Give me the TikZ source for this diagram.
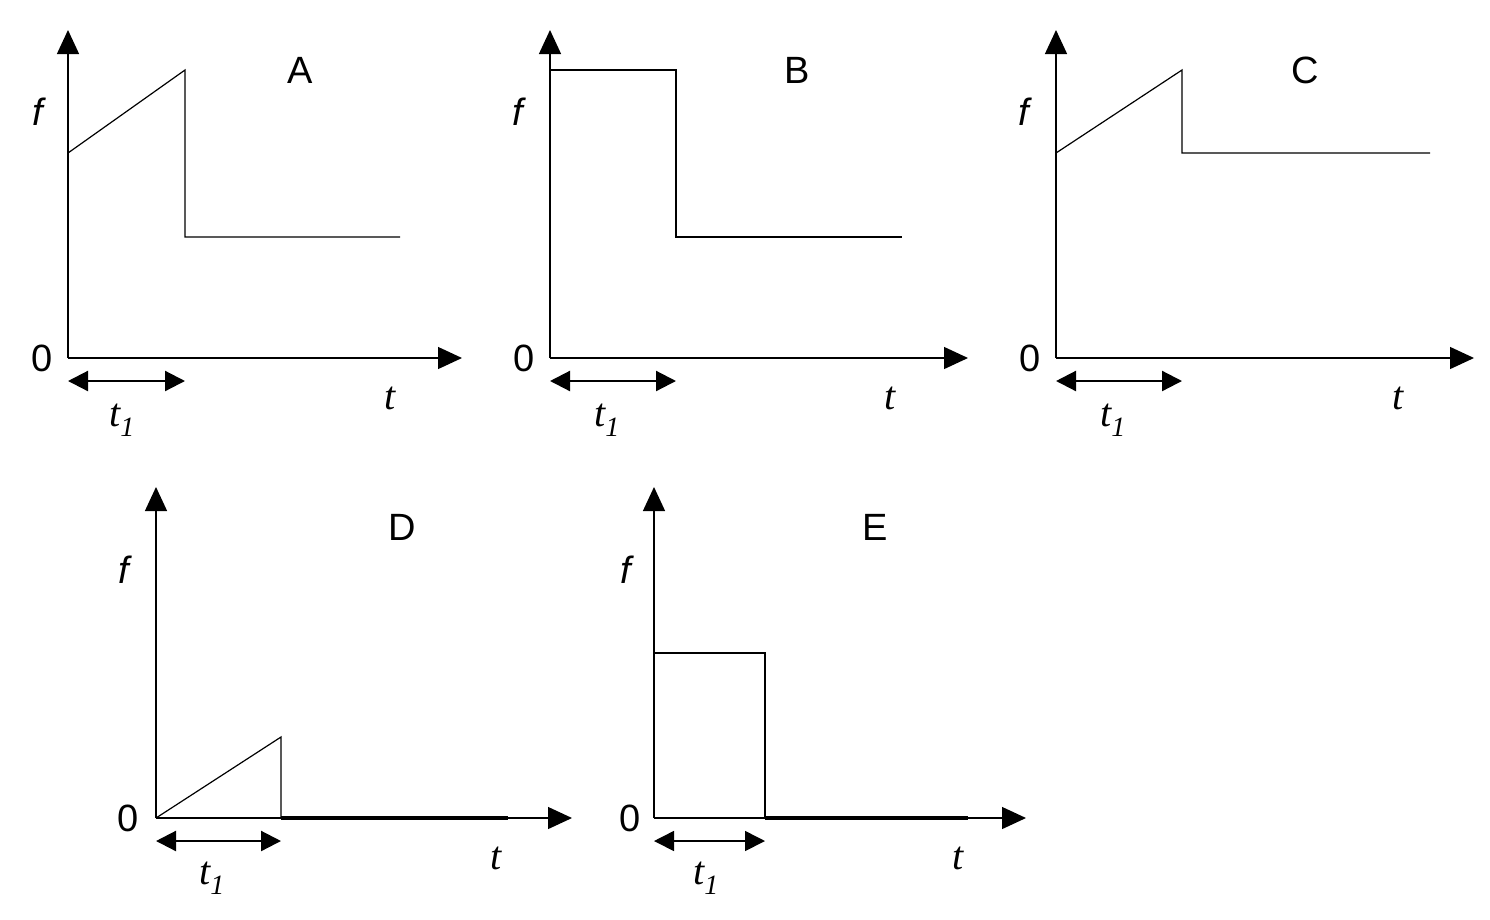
\documentclass[tikz,border=0pt]{standalone}
\usepackage{fontspec}
\setmainfont{Liberation Sans}
\newfontfamily\serifit{Liberation Serif}
\usetikzlibrary{arrows.meta}
\begin{document}
\begin{tikzpicture}[x=1pt,y=-1pt,
 ax/.style={line width=1.3pt,-{Triangle[length=24pt,width=22pt]}},
 dbl/.style={line width=2.2pt,{Triangle[length=20pt,width=20pt]}-{Triangle[length=20pt,width=20pt]}},
 crv/.style={line width=1.2pt},
 thk/.style={line width=4pt},
 lab/.style={font=\fontsize{38}{38}\selectfont},
 it/.style={font=\fontsize{38}{38}\selectfont\itshape},
 sit/.style={font=\fontsize{40}{40}\selectfont\serifit\itshape}]
\useasboundingbox (0,0) rectangle (1490,919);
% Panel A
\coordinate (Ao) at (68,358); \coordinate (Ay) at (68,30); \coordinate (Ax) at (462,358);
\draw[ax] (Ao) -- (Ay); \draw[ax] (Ao) -- (Ax);
\draw[crv] (68,153) -- (185,70) -- (185,237) -- (400,237);
\coordinate (Aa) at (68,381); \coordinate (Ab) at (185,381);
\draw[dbl] (Aa) -- (Ab);
\node[lab] (An) at (300,70) {A}; \node[it] (Af) at (38,112) {f};
\node[lab] (A0) at (42,358) {0}; \node[sit] (At) at (390,398) {t};
\node[sit] (At1) at (122,420) {t\textsubscript{1}};
% Panel B
\coordinate (Bo) at (550,358); \coordinate (By) at (550,30); \coordinate (Bx) at (968,358);
\draw[ax] (Bo) -- (By); \draw[ax] (Bo) -- (Bx);
\draw[crv] (550,70) -- (676,70) -- (676,237) -- (902,237);
\coordinate (Ba) at (550,381); \coordinate (Bb) at (676,381);
\draw[dbl] (Ba) -- (Bb);
\node[lab] (Bn) at (797,70) {B}; \node[it] (Bf) at (518,112) {f};
\node[lab] (B0) at (524,358) {0}; \node[sit] (Bt) at (890,398) {t};
\node[sit] (Bt1) at (607,420) {t\textsubscript{1}};
% Panel C
\coordinate (Co) at (1056,358); \coordinate (Cy) at (1056,30); \coordinate (Cx) at (1474,358);
\draw[ax] (Co) -- (Cy); \draw[ax] (Co) -- (Cx);
\draw[crv] (1056,153) -- (1182,70) -- (1182,153) -- (1430,153);
\coordinate (Ca) at (1056,381); \coordinate (Cb) at (1182,381);
\draw[dbl] (Ca) -- (Cb);
\node[lab] (Cn) at (1305,70) {C}; \node[it] (Cf) at (1024,112) {f};
\node[lab] (C0) at (1030,358) {0}; \node[sit] (Ct) at (1398,398) {t};
\node[sit] (Ct1) at (1113,420) {t\textsubscript{1}};
% Panel D
\coordinate (Do) at (156,818); \coordinate (Dy) at (156,487); \coordinate (Dx) at (572,818);
\draw[ax] (Do) -- (Dy); \draw[ax] (Do) -- (Dx);
\draw[crv] (156,818) -- (281,737) -- (281,818);
\draw[thk] (281,818) -- (508,818);
\coordinate (Da) at (156,841); \coordinate (Db) at (281,841);
\draw[dbl] (Da) -- (Db);
\node[lab] (Dn) at (402,527) {D}; \node[it] (Df) at (124,570) {f};
\node[lab] (D0) at (128,818) {0}; \node[sit] (Dt) at (496,858) {t};
\node[sit] (Dt1) at (212,878) {t\textsubscript{1}};
% Panel E
\coordinate (Eo) at (654,818); \coordinate (Ey) at (654,487); \coordinate (Ex) at (1026,818);
\draw[ax] (Eo) -- (Ey); \draw[ax] (Eo) -- (Ex);
\draw[crv] (654,653) -- (765,653) -- (765,818);
\draw[thk] (765,818) -- (968,818);
\coordinate (Ea) at (654,841); \coordinate (Eb) at (765,841);
\draw[dbl,line width=1.6pt] (Ea) -- (Eb);
\node[lab] (En) at (875,527) {E}; \node[it] (Ef) at (626,570) {f};
\node[lab] (E0) at (630,818) {0}; \node[sit] (Et) at (958,858) {t};
\node[sit] (Et1) at (706,878) {t\textsubscript{1}};
\end{tikzpicture}
\end{document}
